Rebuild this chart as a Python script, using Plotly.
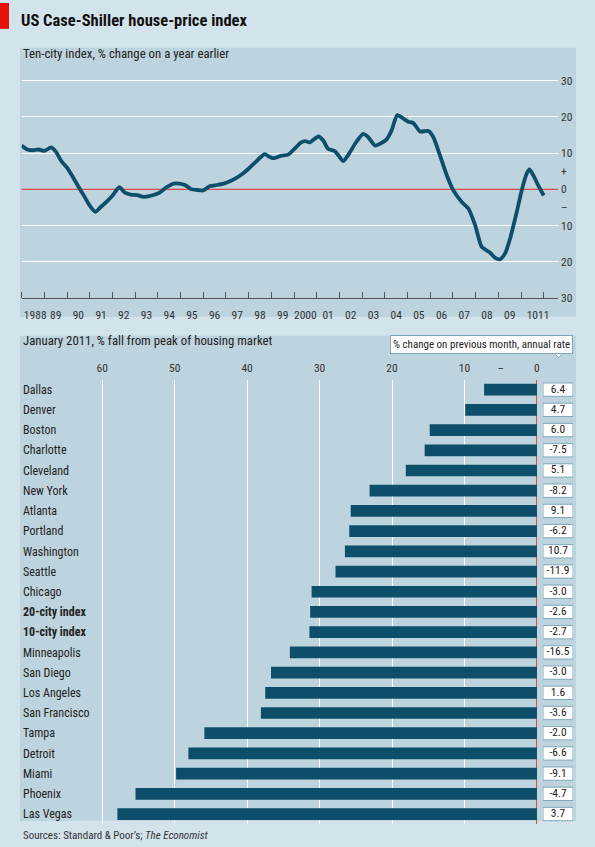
import plotly.graph_objects as go

# Ten-city index, % change on a year earlier
years = [
    1988.0, 1988.25, 1988.5, 1988.75, 1989.0, 1989.3, 1989.5, 1989.75,
    1990.0, 1990.25, 1990.5, 1990.75, 1991.0, 1991.25, 1991.5, 1991.75,
    1992.0, 1992.3, 1992.55, 1992.85, 1993.1, 1993.36, 1993.73, 1994.05,
    1994.39, 1994.7, 1994.95, 1995.2, 1995.45, 1995.75, 1996.0, 1996.3,
    1996.6, 1996.9, 1997.2, 1997.5, 1997.75, 1998.0, 1998.3, 1998.55,
    1998.7, 1998.95, 1999.1, 1999.45, 1999.75, 2000.04, 2000.3, 2000.5,
    2000.7, 2001.07, 2001.29, 2001.5, 2001.81, 2002.0, 2002.17, 2002.47,
    2002.69, 2003.05, 2003.27, 2003.57, 2003.85, 2004.08, 2004.3, 2004.55,
    2004.81, 2005.03, 2005.26, 2005.55, 2005.92, 2006.14, 2006.43, 2006.73,
    2007.02, 2007.39, 2007.68, 2007.98, 2008.27, 2008.64, 2008.86, 2009.08,
    2009.3, 2009.52, 2009.81, 2010.03, 2010.25, 2010.37, 2010.54, 2010.76,
    2011.0,
]
ten_city = [
    12.1, 11.0, 10.8, 11.0, 10.6, 11.6, 10.5, 7.8,
    6.0, 3.5, 0.8, -1.8, -4.5, -6.2, -4.8, -3.4,
    -1.8, 0.6, -0.9, -1.5, -1.6, -2.1, -1.7, -1.0,
    0.6, 1.6, 1.6, 1.2, 0.1, -0.2, -0.3, 0.9,
    1.2, 1.6, 2.3, 3.3, 4.4, 5.7, 7.5, 9.0,
    9.7, 8.9, 8.6, 9.3, 9.6, 11.3, 12.9, 13.3,
    13.0, 14.6, 13.5, 11.2, 10.5, 9.0, 7.8, 10.3,
    12.6, 15.3, 14.4, 12.1, 12.8, 13.8, 16.3, 20.5,
    19.6, 18.7, 18.3, 16.0, 16.1, 14.4, 9.4, 3.9,
    -0.3, -3.5, -5.3, -9.9, -15.9, -17.5, -18.9, -19.3,
    -17.7, -13.6, -6.3, -0.3, 4.3, 5.5, 3.9, 1.1,
    -1.7,
]

year_ticks = list(range(1988, 2012))
year_label_pos = [1988.6] + [y + 0.5 for y in range(1989, 2011)] + [2011.0]
year_labels = ["1988", "89", "90", "91", "92", "93", "94", "95", "96", "97",
               "98", "99", "2000", "01", "02", "03", "04", "05", "06", "07",
               "08", "09", "10", "11"]
y_ticks = [-30, -20, -10, -5, 0, 5, 10, 20, 30]
y_labels = ["30", "20", "10", "–", "0", "+", "10", "20", "30"]
y_grid = [-20, -10, 10, 20, 30]

# January 2011, % fall from peak, and % change on previous month (annual rate)
cities = ["Dallas", "Denver", "Boston", "Charlotte", "Cleveland", "New York",
          "Atlanta", "Portland", "Washington", "Seattle", "Chicago",
          "20-city index", "10-city index", "Minneapolis", "San Diego",
          "Los Angeles", "San Francisco", "Tampa", "Detroit", "Miami",
          "Phoenix", "Las Vegas"]
fall_from_peak = [7.3, 9.9, 14.8, 15.5, 18.1, 23.1, 25.7, 25.9, 26.5, 27.8,
                  31.1, 31.3, 31.4, 34.1, 36.7, 37.5, 38.1, 45.9, 48.1, 49.8,
                  55.4, 57.9]
month_change = [6.4, 4.7, 6.0, -7.5, 5.1, -8.2, 9.1, -6.2, 10.7, -11.9,
                -3.0, -2.6, -2.7, -16.5, -3.0, 1.6, -3.6, -2.0, -6.6, -9.1,
                -4.7, 3.7]
bold_rows = ["20-city index", "10-city index"]

W, H = 595, 847
VSCALE = 847 / 840  # the page comes out slightly squashed vertically
OUTER = "#d3e3ec"
PANEL = "#bdd3de"
DARK = "#0d4f6b"
RED = "#dc4b47"
TXT = "#222222"
BOX_LINE = "#7fa7ba"
FONT = "Roboto Condensed, Liberation Sans Narrow, Roboto, sans-serif"


def px(x):
    return x / W


def py(y):
    return 1 - y * VSCALE / H


fig = go.Figure()

# top: line chart
fig.add_trace(go.Scatter(
    x=years, y=ten_city, mode="lines",
    line=dict(color=DARK, width=3.8, shape="spline", smoothing=0.6),
    xaxis="x", yaxis="y", hoverinfo="x+y",
))

# bottom: bars
fig.add_trace(go.Bar(
    x=fall_from_peak, y=cities, orientation="h",
    marker=dict(color=DARK, line=dict(width=0)),
    width=0.58, xaxis="x3", yaxis="y3",
))
# invisible helper so the overlay axis gets drawn
fig.add_trace(go.Scatter(x=[0], y=[cities[0]], xaxis="x4", yaxis="y3",
                         mode="markers", marker=dict(opacity=0),
                         hoverinfo="skip"))

# value boxes
fig.add_trace(go.Bar(
    x=[1] * len(cities), y=cities, orientation="h",
    marker=dict(color="white", line=dict(color=BOX_LINE, width=1)),
    width=0.66, xaxis="x5", yaxis="y3", hoverinfo="skip",
))
fig.add_trace(go.Scatter(
    x=[0.5] * len(cities), y=cities, mode="text",
    text=[f"{v:.1f}" for v in month_change],
    textfont=dict(family=FONT, size=11.5, color=TXT),
    xaxis="x5", yaxis="y3", hoverinfo="skip",
))

tick_font = dict(family=FONT, size=11.5, color="#333333")

y_top_px = 296 - 61 * 3.633
fig.update_layout(
    width=W, height=H,
    margin=dict(l=0, r=0, t=0, b=0),
    paper_bgcolor=OUTER, plot_bgcolor="rgba(0,0,0,0)",
    showlegend=False, barmode="overlay",
    font=dict(family=FONT, color=TXT),
    xaxis=dict(
        domain=[px(21.6), px(558)], range=[1988, 2011.63], anchor="y",
        tickvals=year_label_pos, ticktext=year_labels, ticks="",
        tickangle=0, tickfont=tick_font, ticklabelstandoff=6,
        minor=dict(tickvals=year_ticks, ticks="inside", ticklen=6,
                   tickcolor="#555555", showgrid=False),
        showline=True, linecolor="#555555", linewidth=1,
        showgrid=False, zeroline=False,
    ),
    yaxis=dict(
        domain=[py(296), py(y_top_px)], range=[-30, 31], anchor="x",
        side="right", tickvals=y_ticks, ticktext=y_labels,
        showgrid=False,
        minor=dict(tickvals=y_grid, showgrid=True, gridcolor="white",
                   gridwidth=1.4, ticks=""),
        zeroline=False,
        ticks="", tickfont=tick_font, ticklabelstandoff=2,
    ),
    xaxis3=dict(
        domain=[px(20), px(544.2)], range=[71.34, -1], anchor="y3",
        side="top", tickvals=[60, 50, 40, 30, 20, 10, 0],
        showgrid=True, gridcolor="white", gridwidth=1.4,
        zeroline=True, zerolinecolor=RED, zerolinewidth=1.2,
        ticks="", tickfont=tick_font, ticklabelstandoff=4,
    ),
    xaxis4=dict(
        overlaying="x3", anchor="y3", side="top", range=[71.34, -1],
        tickvals=[5], ticktext=["–"], showgrid=False,
        zeroline=True, zerolinecolor=RED, zerolinewidth=1.2,
        ticks="", tickfont=tick_font, ticklabelstandoff=4,
    ),
    xaxis5=dict(
        domain=[px(543), px(573)], range=[0, 1], anchor="y3", visible=False,
    ),
    yaxis3=dict(
        domain=[py(824.1), py(377.9)], anchor="x3", type="category",
        range=[21.5, -0.5], tickvals=cities,
        ticktext=[f"<b>{c}</b>" if c in bold_rows else c for c in cities],
        ticklabelposition="inside", ticks="", showgrid=False,
        zeroline=False, tickfont=dict(family=FONT, size=12, color=TXT),
    ),
)

# panels and the red tab
fig.add_shape(type="rect", xref="paper", yref="paper", layer="below",
              x0=px(20), x1=px(576), y0=py(315), y1=py(45),
              fillcolor=PANEL, line=dict(width=0))
fig.add_shape(type="rect", xref="paper", yref="paper", layer="below",
              x0=px(20), x1=px(576), y0=py(821), y1=py(334),
              fillcolor=PANEL, line=dict(width=0))
fig.add_shape(type="rect", xref="paper", yref="paper",
              x0=0, x1=px(9), y0=py(26), y1=1,
              fillcolor="#e3120b", line=dict(width=0))

# red zero line of the top chart (after the panel so it sits on it)
fig.add_hline(y=0, xref="x", yref="y", line=dict(color=RED, width=1.2),
              layer="below")

# pointer under the header box
fig.add_shape(type="path", xref="paper", yref="paper",
              path=f"M {px(553)},{py(350)} L {px(558.5)},{py(356)} L {px(564)},{py(350)} Z",
              fillcolor="white", line=dict(color=BOX_LINE, width=1))

fig.add_annotation(text="<b>US Case-Shiller house-price index</b>",
                   xref="paper", yref="paper", x=px(19), y=py(18),
                   xanchor="left", yanchor="middle", showarrow=False,
                   font=dict(family=FONT, size=16.5, color="#111111"))
fig.add_annotation(text="Ten-city index, % change on a year earlier",
                   xref="paper", yref="paper", x=px(21), y=py(51),
                   xanchor="left", yanchor="middle", showarrow=False,
                   font=dict(family=FONT, size=12.8, color=TXT))
fig.add_annotation(text="January 2011, % fall from peak of housing market",
                   xref="paper", yref="paper", x=px(21), y=py(339),
                   xanchor="left", yanchor="middle", showarrow=False,
                   font=dict(family=FONT, size=12.8, color=TXT))
fig.add_annotation(text="% change on previous month, annual rate",
                   xref="paper", yref="paper", x=px(573), y=py(342.5),
                   xanchor="right", yanchor="middle", showarrow=False,
                   bgcolor="white", bordercolor=BOX_LINE, borderwidth=1,
                   borderpad=2,
                   font=dict(family=FONT, size=11, color=TXT))
fig.add_annotation(text="Sources: Standard &amp; Poor’s; <i>The Economist</i>",
                   xref="paper", yref="paper", x=px(21), y=py(835),
                   xanchor="left", yanchor="middle", showarrow=False,
                   font=dict(family=FONT, size=11, color="#333333"))

fig.write_html("out.html", config={"displayModeBar": False},
               post_script="document.body.style.margin='0';")
